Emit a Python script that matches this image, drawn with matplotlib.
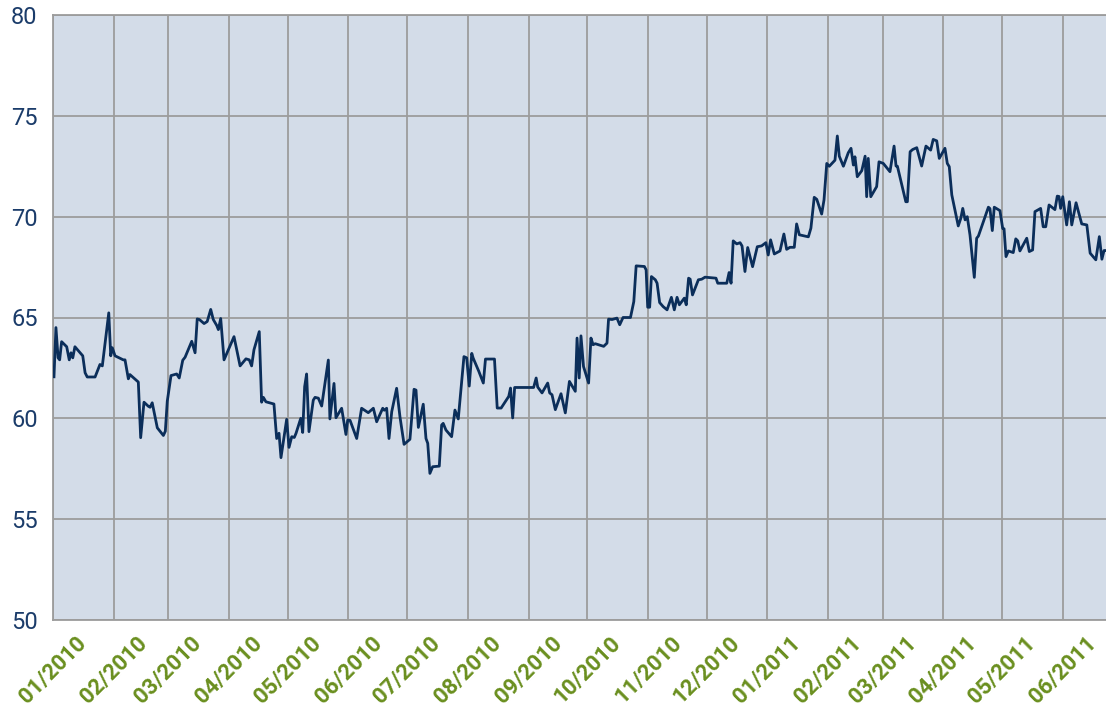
import matplotlib
matplotlib.use("Agg")
import matplotlib.pyplot as plt
import matplotlib.dates as mdates
import pandas as pd

# days after 2010-01-01
days = [0.5, 1.5, 2.6, 3.4, 4.4, 7.0, 8.3, 9.2, 10.1, 11.2, 15.2, 16.4, 17.5, 21.5, 24.0, 25.2,
        28.5, 29.5, 30.3, 31.7, 35.9, 36.8, 38.5, 39.3, 43.6, 44.8, 46.5, 48.7, 49.6, 50.7,
        53.3, 56.4, 57.4, 58.4, 60.3, 63.2, 64.5, 66.3, 67.5, 70.9, 72.6, 73.7, 74.8, 77.2,
        78.8, 80.6, 81.9, 83.7, 84.5, 85.7, 87.4, 92.5, 93.9, 95.6, 98.6, 100.3, 101.5, 102.7,
        105.4, 106.6, 107.5, 108.8, 112.9, 114.3, 115.5, 116.5, 119.4, 120.6, 122.0, 123.3,
        124.2, 126.6, 127.6, 128.6, 129.6, 130.8, 133.0, 133.9, 135.6, 137.3, 140.7, 141.5,
        143.6, 144.6, 147.5, 149.7, 150.6, 151.8, 155.2, 157.7, 161.1, 163.7, 165.4, 168.5,
        169.3, 170.5, 171.7, 173.1, 175.6, 177.3, 179.4, 182.4, 184.5, 185.5, 186.7, 189.2,
        190.6, 191.5, 192.6, 194.0, 197.4, 198.6, 199.4, 200.8, 203.7, 205.4, 207.1, 210.0,
        211.4, 212.7, 214.0, 214.7, 217.6, 219.9, 221.0, 225.6, 227.0, 229.0, 232.9, 233.8,
        234.9, 235.9, 245.6, 246.9, 247.7, 249.9, 252.8, 253.8, 255.0, 256.7, 259.6, 261.8,
        263.9, 266.9, 267.8, 268.9, 269.8, 271.1, 273.7, 274.9, 276.0, 277.1, 281.4, 283.1,
        283.9, 285.7, 288.2, 289.6, 291.3, 295.1, 296.8, 298.0, 302.2, 303.1, 303.9, 304.9,
        305.8, 307.8, 308.7, 310.0, 311.8, 313.8, 316.0, 317.5, 318.9, 320.1, 322.6, 323.6,
        324.8, 325.6, 326.8, 329.8, 331.5, 333.2, 338.8, 339.7, 344.3, 345.5, 346.5, 347.6,
        349.4, 351.1, 352.1, 353.6, 355.0, 357.5, 359.9, 362.1, 364.3, 365.5, 366.7, 368.6,
        371.5, 373.5, 374.9, 376.6, 378.8, 380.0, 381.4, 386.0, 387.3, 389.0, 390.3, 392.8,
        394.0, 395.4, 396.7, 399.6, 400.8, 401.8, 403.9, 406.4, 407.8, 409.0, 409.8, 411.0,
        413.3, 415.0, 415.8, 416.6, 417.9, 420.9, 422.1, 424.3, 427.7, 429.8, 430.8, 431.5,
        435.8, 436.6, 438.0, 439.3, 441.4, 443.9, 446.1, 448.5, 449.8, 451.6, 452.9, 455.8,
        457.0, 458.0, 459.3, 462.6, 463.9, 464.9, 466.1, 467.2, 468.6, 470.8, 472.0, 472.9,
        478.0, 478.8, 480.0, 481.0, 483.9, 485.3, 486.0, 487.0, 488.2, 490.7, 492.0, 493.0,
        494.1, 497.6, 498.9, 500.6, 501.8, 504.7, 506.0, 507.3, 509.0, 511.2, 512.0, 513.2,
        514.1, 514.9, 516.0, 518.0, 519.4, 520.6, 522.8, 525.7, 528.3, 530.0, 532.9, 534.7,
        536.0, 537.1, 538.1]

values = [62.06, 64.5, 63.0, 62.9, 63.8, 63.55, 62.9, 63.25, 63.0, 63.55, 63.1, 62.26, 62.05,
          62.05, 62.67, 62.6, 65.23, 63.1, 63.5, 63.1, 62.9, 62.9, 61.96, 62.17, 61.8, 59.04,
          60.8, 60.6, 60.55, 60.77, 59.53, 59.15, 59.36, 60.85, 62.12, 62.2, 62.0, 62.88, 63.03,
          63.82, 63.25, 64.93, 64.9, 64.7, 64.8, 65.4, 64.9, 64.6, 64.4, 64.95, 62.9, 64.05,
          63.4, 62.6, 62.95, 62.9, 62.6, 63.4, 64.3, 60.8, 61.04, 60.82, 60.71, 59.0, 59.26,
          58.05, 59.95, 58.56, 59.09, 59.05, 59.26, 60.0, 59.3, 61.57, 62.2, 59.34, 60.9, 61.04,
          61.0, 60.61, 62.89, 59.97, 61.73, 60.03, 60.5, 59.2, 59.92, 59.9, 59.0, 60.5, 60.28,
          60.5, 59.83, 60.5, 60.4, 60.5, 59.0, 60.33, 61.49, 60.08, 58.71, 58.96, 61.44, 61.4,
          59.55, 60.7, 59.0, 58.76, 57.27, 57.6, 57.63, 59.67, 59.75, 59.42, 59.09, 60.41,
          59.97, 63.06, 63.0, 61.6, 63.22, 62.99, 62.33, 61.75, 62.94, 62.94, 60.51, 60.51,
          61.09, 61.5, 60.02, 61.53, 61.53, 62.0, 61.55, 61.26, 61.75, 61.26, 61.17, 60.43,
          61.22, 60.27, 61.83, 61.34, 63.98, 62.0, 64.09, 62.57, 61.75, 63.98, 63.65, 63.7,
          63.57, 63.73, 64.92, 64.9, 64.97, 64.64, 65.0, 65.0, 65.79, 67.56, 67.53, 67.36,
          65.51, 65.51, 67.03, 66.87, 66.7, 65.74, 65.54, 65.38, 66.0, 65.38, 66.0, 65.63,
          65.96, 65.63, 66.95, 66.9, 66.12, 66.87, 66.9, 67.0, 66.95, 66.7, 66.7, 67.23, 66.7,
          68.8, 68.65, 68.71, 68.55, 67.28, 68.47, 67.52, 68.51, 68.55, 68.71, 68.1, 68.85,
          68.15, 68.3, 69.14, 68.38, 68.48, 68.48, 69.64, 69.1, 69.0, 69.43, 70.96, 70.86,
          70.13, 70.83, 72.64, 72.5, 72.8, 74.0, 73.0, 72.5, 73.17, 73.39, 72.56, 72.97, 71.98,
          72.28, 73.0, 70.99, 72.89, 70.99, 71.49, 72.72, 72.64, 72.23, 73.5, 72.51, 72.5,
          70.74, 70.74, 73.22, 73.33, 73.42, 72.51, 73.5, 73.3, 73.83, 73.76, 72.89, 73.39,
          72.64, 72.48, 71.08, 69.54, 69.92, 70.41, 69.84, 70.0, 69.09, 66.99, 68.93, 69.04,
          70.47, 70.4, 69.31, 70.47, 70.3, 69.42, 69.4, 68.02, 68.3, 68.22, 68.9, 68.8, 68.3,
          68.93, 68.27, 68.35, 70.25, 70.41, 69.5, 69.5, 70.58, 70.41, 70.35, 71.02, 71.0,
          70.41, 70.99, 69.59, 70.74, 69.59, 70.69, 69.64, 69.59, 68.19, 67.86, 69.01, 67.89,
          68.32, 68.32]

start = pd.Timestamp("2010-01-01")
dates = start + pd.to_timedelta(days, unit="D")

fig = plt.figure(figsize=(11.06, 7.09), dpi=100)
ax = fig.add_axes([53 / 1106, 1 - 620 / 709, 1 - 53 / 1106, (620 - 15) / 709])
ax.set_facecolor("#d3dce8")

ax.plot(dates, values, color="#0b2e5a", linewidth=2.0, zorder=3)

ax.set_xlim(start, start + pd.Timedelta(days=538.1))
ax.set_ylim(50, 80)
ax.set_yticks(range(50, 81, 5))

ax.xaxis.set_major_locator(mdates.MonthLocator())
ax.xaxis.set_major_formatter(mdates.DateFormatter("%m/%Y"))

ax.grid(True, color="#9c9c9c", linewidth=1.3, zorder=1)
ax.set_axisbelow(True)
ax.spines["right"].set_visible(False)
for side in ["left", "bottom", "top"]:
    ax.spines[side].set_color("#9c9c9c")
    ax.spines[side].set_linewidth(1.3)

ax.tick_params(axis="both", length=0)
ax.tick_params(axis="y", pad=11, labelsize=17, labelcolor="#1b3c6a")
ax.tick_params(axis="x", pad=9, labelsize=16, labelcolor="#6a8f1f")
for lbl in ax.get_xticklabels():
    lbl.set_rotation(45)
    lbl.set_fontweight("bold")
    lbl.set_fontfamily("Roboto")
for lbl in ax.get_yticklabels():
    lbl.set_fontfamily("Roboto")

fig.savefig("out.png", dpi=100)
